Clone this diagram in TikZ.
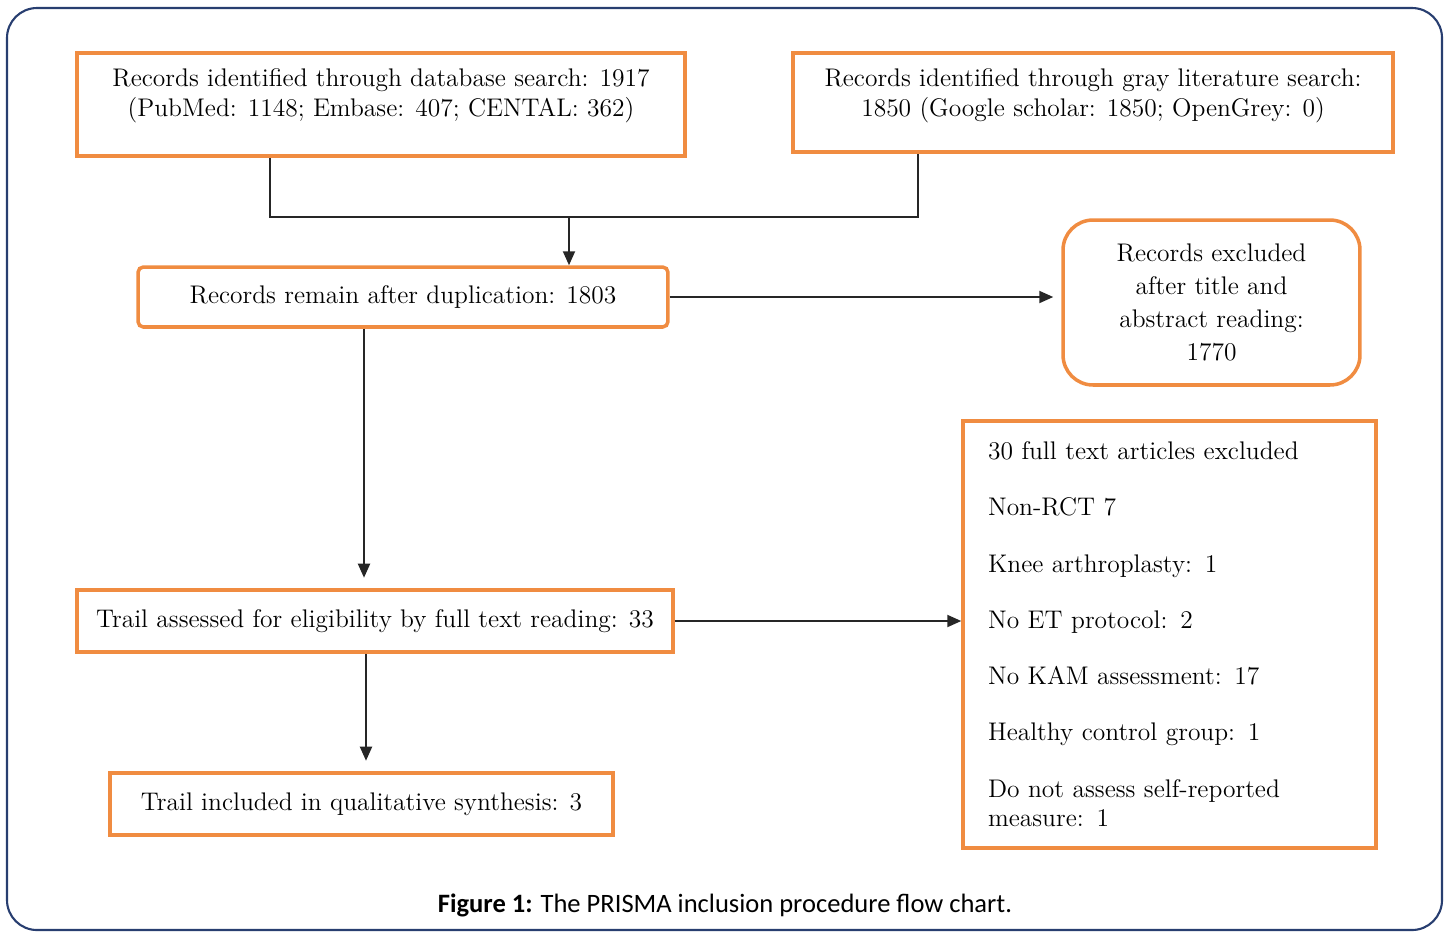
\documentclass[tikz,border=0pt]{standalone}
\usepackage{fontspec}
\usepackage{tikz}
\usetikzlibrary{arrows.meta}
\newfontfamily\capfont{Carlito}
\definecolor{boxorange}{RGB}{240,140,65}
\definecolor{framenavy}{RGB}{40,62,112}

\begin{document}
\begin{tikzpicture}[x=0.02cm,y=-0.02cm,
		box/.style={draw=boxorange,line width=2pt,fill=white,align=center,inner sep=0pt,font=\fontsize{14.5}{17}\selectfont},
		link/.style={line width=1.1pt,black!85},
		arr/.style={link,-{Triangle[length=0.28cm,width=0.24cm]}}]
			\useasboundingbox (0,0) rectangle (1446,931);
			\draw [framenavy,line width=1.2pt,rounded corners=0.6cm] (7,8) rectangle (1442,930);
			\node [box,minimum width=12.16cm,minimum height=2.06cm] (dbsearch) at (381,104.5) {Records identified through database search: 1917\\(PubMed: 1148; Embase: 407; CENTAL: 362)\rule[-14pt]{0pt}{14pt}};
			\node [box,minimum width=12cm,minimum height=1.98cm] (graysearch) at (1093,102.5) {Records identified through gray literature search:\\1850 (Google scholar: 1850; OpenGrey: 0)\rule[-11.8pt]{0pt}{11.8pt}};
			\node [box,rounded corners=3pt,minimum width=10.6cm,minimum height=1.2cm] (remain) at (403,297) {Records remain after duplication: 1803};
			\node [box,rounded corners=0.6cm,minimum width=5.94cm,minimum height=3.3cm,font=\fontsize{14.5}{18.8}\selectfont] (titleexcl) at (1211.5,302.5) {Records excluded\\after title and\\abstract reading:\\1770};
			\node [box,minimum width=11.92cm,minimum height=1.24cm] (fulltext) at (375,621) {Trail assessed for eligibility by full text reading: 33};
			\node [box,align=left,text width=7.26cm,inner xsep=0.5cm,minimum height=8.54cm] (fullexcl) at (1169.5,634.5) {30 full text articles excluded\\[15pt]Non-RCT 7\\[15pt]Knee arthroplasty: 1\\[15pt]No ET protocol: 2\\[15pt]No KAM assessment: 17\\[15pt]Healthy control group: 1\\[15pt]Do not assess self-reported\\measure: 1};
			\node [box,minimum width=10.06cm,minimum height=1.24cm] (included) at (361.5,804) {Trail included in qualitative synthesis: 3};
			\node [font=\capfont\fontsize{15.1}{18}\selectfont] (caption) at (725,905) {\textbf{Figure 1:} The PRISMA inclusion procedure flow chart.};
			% merging the two searches
			\coordinate (joinL) at (270,217);
			\coordinate (joinR) at (918,217);
			\coordinate (join) at (569,217);
			\draw [link] (dbsearch.south -| joinL) -- (joinL) -- (joinR) -- (graysearch.south -| joinR);
			\draw [arr] (join) -- (remain.north -| join);
			\draw [arr,shorten >=8pt*0.569] (remain.east) -- (remain.east -| titleexcl.west);
			\coordinate (downA) at (364,0);
			\coordinate (downB) at (366,0);
			\draw [arr,shorten >=6pt] (remain.south -| downA) -- (fulltext.north -| downA);
			\draw [arr] (fulltext.east) -- (fulltext.east -| fullexcl.west);
			\draw [arr,shorten >=6pt] (fulltext.south -| downB) -- (included.north -| downB);
		\end{tikzpicture}
\end{document}
